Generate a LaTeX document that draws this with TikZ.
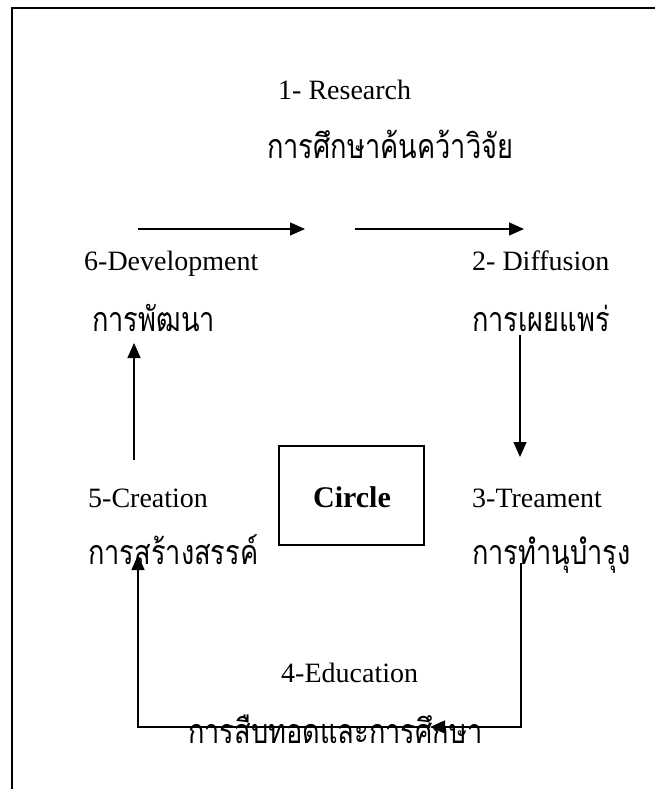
\documentclass[tikz,border=0pt]{standalone}
\usepackage{fontspec}
\setmainfont{Liberation Serif}
\newfontfamily\thaifont[Script=Thai,FakeStretch=0.8]{Loma}
\usetikzlibrary{arrows.meta}
\tikzset{
  en/.style={anchor=base west, inner sep=0pt, font=\fontsize{28}{30}\selectfont},
  th/.style={anchor=base west, inner sep=0pt, font=\fontsize{34}{38}\selectfont\thaifont},
  arr/.style={line width=1.3pt, -{Triangle[length=15pt,width=13pt]}},
  ln/.style={line width=1.3pt},
  frame/.style={line width=2pt}
}
\begin{document}
\begin{tikzpicture}[x=1pt,y=-1pt]
\useasboundingbox (0,0) rectangle (655,789);
% frame
\coordinate (f1) at (12,789);
\coordinate (f2) at (12,8);
\coordinate (f3) at (655,8);
\draw[frame] (f1) -- (f2) -- (f3);
% texts
\node[en] (r1) at (278,100) {1- Research};
\node[th] (r1t) at (267,158) {การศึกษาค้นคว้าวิจัย};
\node[en] (r6) at (84,270) {6-Development};
\node[th] (r6t) at (92,331) {การพัฒนา};
\node[en] (r2) at (472,270) {2- Diffusion};
\node[th] (r2t) at (472,331) {การเผยแพร่};
\node[en] (r5) at (88,507) {5-Creation};
\node[th] (r5t) at (88,564) {การสร้างสรรค์};
\node[en] (r3) at (472,507) {3-Treament};
\node[th] (r3t) at (472,564) {การทำนุบำรุง};
\node[en] (r4) at (281,682) {4-Education};
% circle box
\node[draw, line width=1.4pt, minimum width=145pt, minimum height=99pt, inner sep=0pt] (c) at (351.5,495.5) {};
\node[anchor=base, inner sep=0pt, font=\fontsize{30}{32}\selectfont\bfseries] (ct) at (352,507) {Circle};
% arrows
\coordinate (a1s) at (138,229);
\coordinate (a1e) at (305,229);
\coordinate (a2s) at (355,229);
\coordinate (a2e) at (524,229);
\draw[arr] (a1s) -- (a1e);
\draw[arr] (a2s) -- (a2e);
\coordinate (us) at (134,460);
\coordinate (ue) at (134,343);
\draw[arr] (us) -- (ue);
\coordinate (ds) at (520,335);
\coordinate (de) at (520,457);
\draw[arr] (ds) -- (de);
\coordinate (bs) at (521,563);
\coordinate (bm) at (430,727);
\coordinate (be) at (138,555);
\draw[arr] (bs) |- (bm);
\draw[ln] (bm) -| ([yshift=-12pt]be);
\node[th] (r4t) at (188,743) {การสืบทอดและการศึกษา};
\draw[arr] ([yshift=-14pt]be) -- (be);
\end{tikzpicture}
\end{document}
